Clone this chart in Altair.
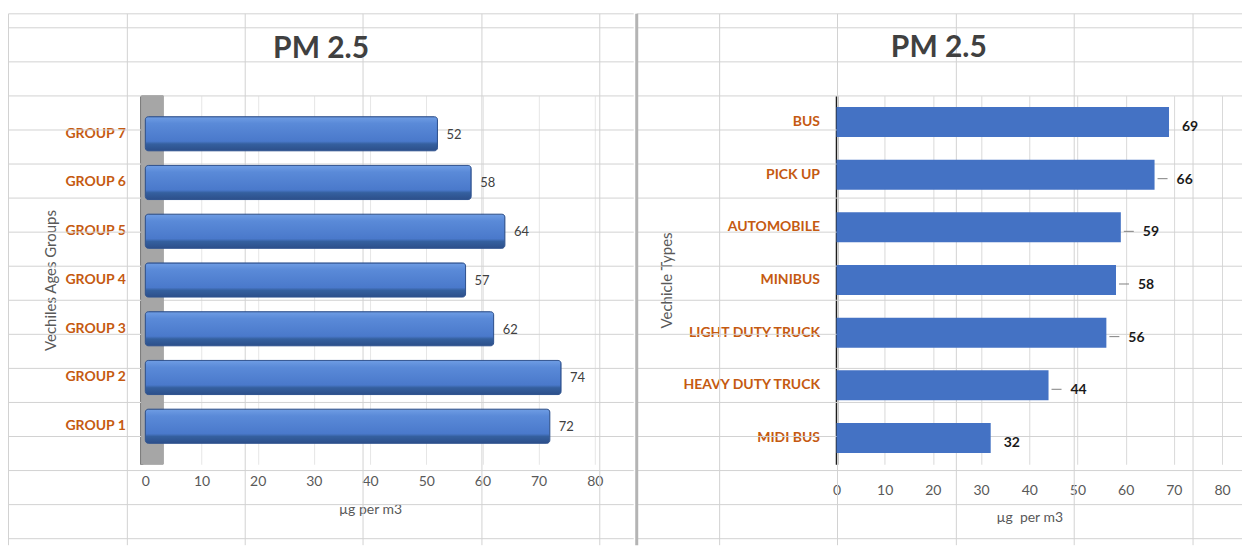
import altair as alt
import pandas as pd

# PM 2.5 by vehicle age group
age_groups = ["GROUP 7", "GROUP 6", "GROUP 5", "GROUP 4", "GROUP 3", "GROUP 2", "GROUP 1"]
age_values = [52, 58, 64, 57, 62, 74, 72]

# PM 2.5 by vehicle type
vehicle_types = ["BUS", "PICK UP", "AUTOMOBILE", "MINIBUS",
                 "LIGHT DUTY TRUCK", "HEAVY DUTY TRUCK", "MIDI BUS"]
type_values = [69, 66, 59, 58, 56, 44, 32]
# value labels pulled away from their bar and joined by a leader line
leader_types = ["PICK UP", "AUTOMOBILE", "MINIBUS", "LIGHT DUTY TRUCK", "HEAVY DUTY TRUCK"]

x_ticks = [0, 10, 20, 30, 40, 50, 60, 70, 80]

FONT = "Lato"
ORANGE = "#C55A11"
GREY_TEXT = "#595959"

age_df = pd.DataFrame({"group": age_groups, "value": age_values})
type_df = pd.DataFrame({"type": vehicle_types, "value": type_values})
type_df["leader"] = type_df["type"].isin(leader_types)

# ---- worksheet cell grid behind the two charts (page pixels) ----
SHEET_TOP = 12
SHEET_BOTTOM = 544
ROW_LINES = [12] + [26 + 34.1 * i for i in range(16)]
LINE_GREY = "#d2d2d2"
PLOT_TOP = 94


def sheet_grid(origin_x, x_left, x_right, columns, divider=None):
    ox, oy = origin_x, PLOT_TOP
    segs = []
    for r in ROW_LINES:
        segs.append({"x": x_left - ox, "x2": x_right - ox, "y": r - oy, "y2": r - oy,
                     "w": 1, "c": LINE_GREY})
    for c in columns:
        segs.append({"x": c - ox, "x2": c - ox, "y": SHEET_TOP - oy, "y2": SHEET_BOTTOM - oy,
                     "w": 1, "c": LINE_GREY})
    if divider is not None:
        segs.append({"x": divider - ox, "x2": divider - ox, "y": SHEET_TOP - oy,
                     "y2": SHEET_BOTTOM - oy, "w": 3, "c": "#b4b4b4"})
    return alt.Chart(pd.DataFrame(segs)).mark_rule().encode(
        x=alt.X("x:Q", scale=None, axis=None),
        x2="x2:Q",
        y=alt.Y("y:Q", scale=None, axis=None),
        y2="y2:Q",
        strokeWidth=alt.StrokeWidth("w:Q", scale=None, legend=None),
        color=alt.Color("c:N", scale=None, legend=None),
    )


def title(text):
    return alt.TitleParams(text, font=FONT, fontSize=30, fontWeight="bold", color="#404040",
                           anchor="middle", frame="bounds", baseline="alphabetic", offset=-75)


# ---------------- left: vehicle age groups (3-D style bars) ----------------
L_W, L_H = 450, 369
x_left = alt.X("value:Q", scale=alt.Scale(domain=[0, 80], nice=False),
               axis=alt.Axis(orient="bottom", values=x_ticks, title="µg per m3",
                             labelFont=FONT, labelFontSize=14, labelColor=GREY_TEXT,
                             labelPadding=10, labelFlush=False, ticks=False, domain=False,
                             grid=True, gridColor="#e6e6e6",
                             titleFont=FONT, titleFontSize=14, titleColor=GREY_TEXT,
                             titleFontWeight="normal", titlePadding=14))
y_left = alt.Y("group:N", sort=age_groups,
               scale=alt.Scale(paddingInner=0.3, paddingOuter=0.43),
               axis=alt.Axis(orient="left", title="Vechiles Ages Groups",
                             labelFont=FONT, labelFontSize=14, labelFontWeight="bold",
                             labelColor=ORANGE, labelPadding=16, ticks=False,
                             domainColor="#3f3f3f", domainWidth=3, offset=4,
                             titleFont=FONT, titleFontSize=15, titleColor=GREY_TEXT,
                             titleFontWeight="normal", titlePadding=6))

left_base = alt.Chart(age_df)
wall = left_base.mark_rect(color="#a6a6a6", opacity=0.85).encode(
    x=alt.datum(-0.7), x2=alt.datum(3.2))
bar_fill = alt.Gradient(
    gradient="linear", x1=0, x2=0, y1=0, y2=1,
    stops=[alt.GradientStop(color="#6f9de4", offset=0),
           alt.GradientStop(color="#5a8ad8", offset=0.2),
           alt.GradientStop(color="#4a79cb", offset=0.72),
           alt.GradientStop(color="#35609f", offset=0.8),
           alt.GradientStop(color="#2c4f8a", offset=1)])
left_bars = left_base.mark_bar(fill=bar_fill, stroke="#2f528f", strokeWidth=1,
                               cornerRadius=3).encode(x=x_left, y=y_left)
left_labels = left_base.mark_text(align="left", dx=9, dy=1, font=FONT, fontSize=13,
                                  color="#404040").encode(
    x="value:Q", y=alt.Y("group:N", sort=age_groups), text="value:Q")

left_chart = alt.layer(
    sheet_grid(145, 8, 634, [8, 127, 245, 363, 482, 600]),
    alt.layer(wall, left_bars, left_labels),
).resolve_scale(x="independent", y="independent").properties(
    width=L_W, height=L_H, title=title("PM 2.5"))

# ---------------- right: vehicle types (flat bars) ----------------
R_W, R_H = 386, 369
x_right = alt.X("value:Q", scale=alt.Scale(domain=[0, 80], nice=False),
                axis=alt.Axis(orient="bottom", values=x_ticks, title="µg\u00a0 per m3",
                              labelFont=FONT, labelFontSize=14, labelColor=GREY_TEXT,
                              labelPadding=19, labelFlush=False, ticks=False, domain=False,
                              grid=True, gridColor="#d9d9d9",
                              titleFont=FONT, titleFontSize=14, titleColor=GREY_TEXT,
                              titleFontWeight="normal", titlePadding=13))
y_right = alt.Y("type:N", sort=vehicle_types,
                scale=alt.Scale(paddingInner=0.43, paddingOuter=0.215),
                axis=alt.Axis(orient="left", title="Vechicle Types",
                              labelFont=FONT, labelFontSize=14, labelFontWeight="bold",
                              labelColor=ORANGE, labelPadding=17, ticks=False,
                              domainColor="#1a1a1a", domainWidth=2.5,
                              titleFont=FONT, titleFontSize=15, titleColor=GREY_TEXT,
                              titleFontWeight="normal", titlePadding=7))

right_base = alt.Chart(type_df)
y_plain = alt.Y("type:N", sort=vehicle_types)
right_bars = right_base.mark_bar(color="#4472C4").encode(x=x_right, y=y_right)
near_labels = right_base.transform_filter("!datum.leader").mark_text(
    align="left", dx=13, dy=5, font=FONT, fontSize=14, fontWeight="bold",
    color="#1a1a1a").encode(x="value:Q", y=y_plain, text="value:Q")
far_labels = right_base.transform_filter("datum.leader").mark_text(
    align="left", dx=22, dy=5, font=FONT, fontSize=14, fontWeight="bold",
    color="#1a1a1a").encode(x="value:Q", y=y_plain, text="value:Q")
leaders = right_base.transform_filter("datum.leader").mark_rule(
    color="#808080", strokeWidth=1, xOffset=3, x2Offset=13, yOffset=4).encode(
    x="value:Q", x2="value:Q", y=y_plain)

right_chart = alt.layer(
    sheet_grid(835, 635, 1241, [718, 836, 955, 1073, 1192], divider=635),
    alt.layer(right_bars, leaders, near_labels, far_labels),
).resolve_scale(x="independent", y="independent").properties(
    width=R_W, height=R_H, title=title("PM 2.5"))

chart = alt.hconcat(left_chart, right_chart, spacing=0).properties(
    padding={"left": 7.5, "top": 11.5, "right": 0, "bottom": 0},
    background="white",
).configure_view(stroke=None)

chart.save("out.html", embed_options={"renderer": "svg", "actions": False})
